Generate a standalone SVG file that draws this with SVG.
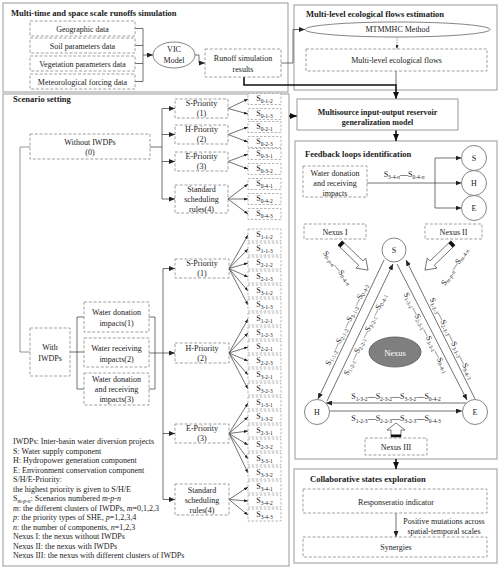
<svg xmlns="http://www.w3.org/2000/svg" width="500" height="569" viewBox="0 0 500 569">
<defs>
<style>
text{font-family:"Liberation Serif","Times New Roman",serif;font-size:8px;fill:#1a1a1a}
.b{font-weight:bold}
.tt{font-weight:bold;font-size:8.5px}
.m{text-anchor:middle}
.sub{font-size:5.5px}
.it{font-style:italic}
.pn{fill:none;stroke:#999;stroke-width:1}
.db{fill:#fff;stroke:#888;stroke-width:0.8;stroke-dasharray:3 1.8}
.sb{fill:#fff;stroke:#999;stroke-width:0.7;stroke-dasharray:2.5 1.5}
.ln{fill:none;stroke:#333;stroke-width:0.7}
.gl{fill:none;stroke:#888;stroke-width:0.9}
.tk{fill:none;stroke:#111;stroke-width:1.6}
.dt{fill:none;stroke:#555;stroke-width:0.6;stroke-dasharray:1.5 1}
.cr{fill:#fff;stroke:#666;stroke-width:0.8}
.ha{fill:#fff;stroke:#444;stroke-width:0.7}
</style>
<marker id="a" markerUnits="userSpaceOnUse" markerWidth="6" markerHeight="5" refX="6" refY="2.5" orient="auto"><path d="M0,0L6,2.5L0,5z" fill="#222"/></marker>
<marker id="as" markerUnits="userSpaceOnUse" markerWidth="4" markerHeight="3" refX="4" refY="1.5" orient="auto"><path d="M0,0L4,1.5L0,3z" fill="#222"/></marker>
<marker id="ak" markerUnits="userSpaceOnUse" markerWidth="7" markerHeight="6" refX="7" refY="3" orient="auto"><path d="M0,0L7,3L0,6z" fill="#111"/></marker>
</defs>
<rect width="500" height="569" fill="#fff"/>

<!-- Panels -->
<g id="panel-runoff">
<rect class="pn" x="3" y="3" width="285" height="89"/>
<text class="tt" x="11" y="16">Multi-time  and  space scale runoffs  simulation</text>
</g>
<g id="panel-eco">
<rect class="pn" x="294" y="5" width="203" height="85"/>
<text class="tt" x="306" y="17">Multi-level ecological flows estimation</text>
</g>
<g id="panel-scenario">
<rect class="pn" x="3" y="94" width="286" height="472"/>
<text class="tt" x="13" y="102">Scenario setting</text>
</g>
<g id="panel-feedback">
<rect class="pn" x="295" y="141" width="202" height="318"/>
<text class="tt" x="305" y="157">Feedback loops identification</text>
</g>
<g id="panel-collab">
<rect class="pn" x="294" y="469" width="203" height="94"/>
<text class="tt" x="310" y="482">Collaborative states exploration</text>
</g>

<!-- Connectors -->
<g id="connectors">
<path class="ln" d="M135,28.5H143M135,45.5H143M135,63.5H143M135,81.5H143M143,28.5V81.5"/>
<line class="ln" x1="143" y1="55" x2="153" y2="55" marker-end="url(#a)"/>
<polyline class="ln" points="195,55 199,55 199,63 205,63" marker-end="url(#a)"/>
<polyline class="ln" points="281,63 293,63 293,29.5 305,29.5" marker-end="url(#a)"/>
<line class="dt" x1="397" y1="37" x2="397" y2="49" marker-end="url(#as)"/>
<line class="ln" x1="396" y1="71" x2="396" y2="85"/>
<polyline class="tk" points="244,77 244,85 396,85 396,99" marker-end="url(#ak)"/>
<line class="tk" x1="289" y1="116" x2="297" y2="116" marker-end="url(#ak)"/>
<line class="tk" x1="396" y1="130" x2="396" y2="141" marker-end="url(#ak)"/>
<line class="tk" x1="396" y1="459" x2="396" y2="469" marker-end="url(#ak)"/>
<line class="ln" x1="396" y1="513" x2="396" y2="537" marker-end="url(#a)"/>

<!-- scenario tree -->
<polyline class="gl" points="30,147 20,147 20,352 30,352"/>
<path class="ln" d="M150,147H162M162,108.5V199"/>
<line class="ln" x1="162" y1="108.5" x2="175" y2="108.5" marker-end="url(#a)"/>
<line class="ln" x1="162" y1="134.5" x2="175" y2="134.5" marker-end="url(#a)"/>
<line class="ln" x1="162" y1="161.5" x2="175" y2="161.5" marker-end="url(#a)"/>
<line class="ln" x1="162" y1="199" x2="175" y2="199" marker-end="url(#a)"/>

<path class="ln" d="M70,352H84M84,317H77V389H84M149,317H155V389H149"/>
<path class="ln" d="M149,353H163M163,268.5V499.5"/>
<line class="ln" x1="163" y1="268.5" x2="175" y2="268.5" marker-end="url(#a)"/>
<line class="ln" x1="163" y1="353" x2="175" y2="353" marker-end="url(#a)"/>
<line class="ln" x1="163" y1="433.5" x2="175" y2="433.5" marker-end="url(#a)"/>
<line class="ln" x1="163" y1="499.5" x2="175" y2="499.5" marker-end="url(#a)"/>

<!-- fans -->
<g class="ln" marker-end="url(#as)">
<line x1="228" y1="108.5" x2="248" y2="99"/>
<line x1="228" y1="108.5" x2="248" y2="114"/>
<line x1="228" y1="134.5" x2="248" y2="127"/>
<line x1="228" y1="134.5" x2="248" y2="142"/>
<line x1="228" y1="161.5" x2="248" y2="154"/>
<line x1="228" y1="161.5" x2="248" y2="169"/>
<line x1="228" y1="199" x2="248" y2="184"/>
<line x1="228" y1="199" x2="248" y2="199"/>
<line x1="228" y1="199" x2="248" y2="214"/>
<line x1="229" y1="268.5" x2="248" y2="235"/>
<line x1="229" y1="268.5" x2="248" y2="249"/>
<line x1="229" y1="268.5" x2="248" y2="263"/>
<line x1="229" y1="268.5" x2="248" y2="277"/>
<line x1="229" y1="268.5" x2="248" y2="291"/>
<line x1="229" y1="268.5" x2="248" y2="305"/>
<line x1="229" y1="353" x2="248" y2="319"/>
<line x1="229" y1="353" x2="248" y2="333"/>
<line x1="229" y1="353" x2="248" y2="347"/>
<line x1="229" y1="353" x2="248" y2="361"/>
<line x1="229" y1="353" x2="248" y2="375"/>
<line x1="229" y1="353" x2="248" y2="389"/>
<line x1="229" y1="433.5" x2="248" y2="403"/>
<line x1="229" y1="433.5" x2="248" y2="417"/>
<line x1="229" y1="433.5" x2="248" y2="431"/>
<line x1="229" y1="433.5" x2="248" y2="445"/>
<line x1="229" y1="433.5" x2="248" y2="459"/>
<line x1="229" y1="433.5" x2="248" y2="473"/>
<line x1="229" y1="499.5" x2="248" y2="487"/>
<line x1="229" y1="499.5" x2="248" y2="501"/>
<line x1="229" y1="499.5" x2="248" y2="515"/>
</g>

<!-- feedback -->
<path class="ln" d="M367,183H435M435,158V208"/>
<line class="ln" x1="435" y1="158" x2="461.5" y2="158" marker-end="url(#a)"/>
<line class="ln" x1="435" y1="183" x2="461.5" y2="183" marker-end="url(#a)"/>
<line class="ln" x1="435" y1="208" x2="461.5" y2="208" marker-end="url(#a)"/>

<line class="ln" x1="384" y1="260" x2="318" y2="399" marker-end="url(#a)"/>
<line class="ln" x1="327" y1="401" x2="393" y2="264" marker-end="url(#a)"/>
<line class="ln" x1="397" y1="264" x2="467" y2="400" marker-end="url(#a)"/>
<line class="ln" x1="475" y1="399" x2="406" y2="260" marker-end="url(#a)"/>
<line class="ln" x1="466" y1="403" x2="326" y2="403" marker-end="url(#a)"/>
<line class="ln" x1="330" y1="411" x2="462" y2="411" marker-end="url(#a)"/>

<!-- hollow arrows -->
<g transform="translate(340,243) rotate(44)">
<polygon class="ha" points="0,-3 29,-3 29,-7 39,0 29,7 29,3 0,3"/>
<rect x="0" y="-3" width="3.5" height="6" fill="#111"/>
</g>
<g transform="translate(453,243) rotate(136)">
<polygon class="ha" points="0,-3 29,-3 29,-7 39,0 29,7 29,3 0,3"/>
<rect x="0" y="-3" width="3.5" height="6" fill="#111"/>
</g>
<g transform="translate(396,437) rotate(-90)">
<polygon class="ha" points="0,-5 7,-5 7,-9 14,0 7,9 7,5 0,5"/>
<rect x="0" y="-5" width="2.5" height="10" fill="#111"/>
</g>

<!-- connector labels -->
<text class="m" x="404" y="177">S<tspan class="sub" dy="1.5">3-4-<tspan class="it">n</tspan></tspan><tspan dy="-1.5">—S</tspan><tspan class="sub" dy="1.5">0-4-<tspan class="it">n</tspan></tspan></text>
<text class="m" transform="translate(335.5,269.3) rotate(51)">S<tspan class="sub" dy="1.5">0-<tspan class="it">p</tspan>-<tspan class="it">n</tspan></tspan><tspan dy="-1.5">—S</tspan><tspan class="sub" dy="1.5">0-4-<tspan class="it">n</tspan></tspan></text>
<text class="m" transform="translate(456.7,268) rotate(-57)">S<tspan class="sub it" dy="1.5">m-p-n</tspan><tspan dy="-1.5">—S</tspan><tspan class="sub" dy="1.5"><tspan class="it">m</tspan>-4-<tspan class="it">n</tspan></tspan></text>
<text class="m" transform="translate(349,325.5) rotate(-64.6)">S<tspan class="sub" dy="1.5">1-1-2</tspan><tspan dy="-1.5">—S</tspan><tspan class="sub" dy="1.5">2-1-2</tspan><tspan dy="-1.5">—S</tspan><tspan class="sub" dy="1.5">3-1-2</tspan><tspan dy="-1.5">—S</tspan><tspan class="sub" dy="1.5">0-4-2</tspan></text>
<text class="m" transform="translate(367.4,335.5) rotate(-64.3)">S<tspan class="sub" dy="1.5">1-2-1</tspan><tspan dy="-1.5">—S</tspan><tspan class="sub" dy="1.5">2-2-1</tspan><tspan dy="-1.5">—S</tspan><tspan class="sub" dy="1.5">3-2-1</tspan><tspan dy="-1.5">—S</tspan><tspan class="sub" dy="1.5">0-4-1</tspan></text>
<text class="m" transform="translate(449.3,339.4) rotate(63.6)">S<tspan class="sub" dy="1.5">1-1-3</tspan><tspan dy="-1.5">—S</tspan><tspan class="sub" dy="1.5">2-1-3</tspan><tspan dy="-1.5">—S</tspan><tspan class="sub" dy="1.5">3-1-3</tspan><tspan dy="-1.5">—S</tspan><tspan class="sub" dy="1.5">0-4-3</tspan></text>
<text class="m" transform="translate(423.9,333.7) rotate(62.8)">S<tspan class="sub" dy="1.5">1-3-1</tspan><tspan dy="-1.5">—S</tspan><tspan class="sub" dy="1.5">2-3-1</tspan><tspan dy="-1.5">—S</tspan><tspan class="sub" dy="1.5">3-3-1</tspan><tspan dy="-1.5">—S</tspan><tspan class="sub" dy="1.5">0-4-1</tspan></text>
<text class="m" x="396" y="399">S<tspan class="sub" dy="1.5">1-3-2</tspan><tspan dy="-1.5">—S</tspan><tspan class="sub" dy="1.5">2-3-2</tspan><tspan dy="-1.5">—S</tspan><tspan class="sub" dy="1.5">3-3-2</tspan><tspan dy="-1.5">—S</tspan><tspan class="sub" dy="1.5">0-4-2</tspan></text>
<text class="m" x="396" y="421">S<tspan class="sub" dy="1.5">1-2-3</tspan><tspan dy="-1.5">—S</tspan><tspan class="sub" dy="1.5">2-2-3</tspan><tspan dy="-1.5">—S</tspan><tspan class="sub" dy="1.5">3-2-3</tspan><tspan dy="-1.5">—S</tspan><tspan class="sub" dy="1.5">0-4-3</tspan></text>
<text class="m" x="444" y="523.5">Positive mutations across</text>
<text class="m" x="444" y="533.5">spatial-temporal  scales</text>
</g>

<!-- Nodes: runoff panel -->
<g id="geo"><rect class="db" x="30" y="21" width="105" height="15"/><text class="m" x="82.5" y="31.5">Geographic data</text></g>
<g id="soil"><rect class="db" x="30" y="38" width="105" height="15"/><text class="m" x="82.5" y="48.5">Soil parameters data</text></g>
<g id="veg"><rect class="db" x="30" y="56" width="105" height="15"/><text class="m" x="82.5" y="66.5">Vegetation  parameters data</text></g>
<g id="meteo"><rect class="db" x="30" y="74" width="105" height="15"/><text class="m" x="82.5" y="84.5">Meteorological  forcing data</text></g>
<g id="vic"><ellipse cx="174" cy="55" rx="21" ry="13" fill="#fff" stroke="#666" stroke-width="0.8"/><text class="m" x="174" y="52">VIC</text><text class="m" x="174" y="63">Model</text></g>
<g id="runoff"><rect class="db" x="205" y="49" width="76" height="28"/><text class="m" x="243" y="61">Runoff simulation</text><text class="m" x="243" y="72">results</text></g>

<!-- eco panel -->
<g id="mtmmhc"><ellipse cx="397.5" cy="29.5" rx="92.5" ry="7.5" fill="#fff" stroke="#666" stroke-width="0.8"/><text class="m" x="397.5" y="32.3">MTMMHC Method</text></g>
<g id="mlef"><rect class="db" x="306" y="49" width="181" height="22"/><text class="m" x="396.5" y="63">Multi-level  ecological flows</text></g>

<g id="multisource"><rect x="297" y="99" width="161" height="31" fill="#fff" stroke="#999" stroke-width="1"/><text class="m b" x="377.5" y="115">Multisource input-output  reservoir</text><text class="m b" x="377.5" y="124.5">generalization model</text></g>

<!-- scenario nodes -->
<g id="without"><rect class="db" x="30" y="134" width="120" height="25"/><text class="m" x="90" y="145">Without IWDPs</text><text class="m" x="90" y="155">(0)</text></g>
<g id="s-pri-0"><rect class="db" x="175" y="99" width="53" height="19"/><text class="m" x="201.5" y="106">S-Priority</text><text class="m" x="201.5" y="116">(1)</text></g>
<g id="h-pri-0"><rect class="db" x="175" y="125" width="53" height="19"/><text class="m" x="201.5" y="132">H-Priority</text><text class="m" x="201.5" y="142">(2)</text></g>
<g id="e-pri-0"><rect class="db" x="175" y="152" width="53" height="19"/><text class="m" x="201.5" y="159">E-Priority</text><text class="m" x="201.5" y="169">(3)</text></g>
<g id="std-0"><rect class="db" x="175" y="185" width="53" height="28"/><text class="m" x="201.5" y="192">Standard</text><text class="m" x="201.5" y="202">scheduling</text><text class="m" x="201.5" y="212">rules(4)</text></g>

<g id="with"><rect class="db" x="30" y="328" width="40" height="48"/><text class="m" x="50" y="350">With</text><text class="m" x="50" y="361">IWDPs</text></g>
<g id="wd1"><rect class="db" x="84" y="302" width="65" height="30"/><text class="m" x="116.5" y="315">Water donation</text><text class="m" x="116.5" y="325.5">impacts(1)</text></g>
<g id="wr2"><rect class="db" x="84" y="338" width="65" height="29"/><text class="m" x="116.5" y="351">Water receiving</text><text class="m" x="116.5" y="361.5">impacts(2)</text></g>
<g id="wdr3"><rect class="db" x="84" y="373" width="65" height="32"/><text class="m" x="116.5" y="381.5">Water donation</text><text class="m" x="116.5" y="391.5">and receiving</text><text class="m" x="116.5" y="401.5">impacts(3)</text></g>

<g id="s-pri-1"><rect class="db" x="175" y="259" width="54" height="19"/><text class="m" x="202" y="266">S-Priority</text><text class="m" x="202" y="276">(1)</text></g>
<g id="h-pri-1"><rect class="db" x="175" y="343" width="54" height="20"/><text class="m" x="202" y="350.5">H-Priority</text><text class="m" x="202" y="360.5">(2)</text></g>
<g id="e-pri-1"><rect class="db" x="175" y="424" width="54" height="19"/><text class="m" x="202" y="431">E-Priority</text><text class="m" x="202" y="441">(3)</text></g>
<g id="std-1"><rect class="db" x="175" y="484" width="54" height="31"/><text class="m" x="202" y="493">Standard</text><text class="m" x="202" y="503">scheduling</text><text class="m" x="202" y="513">rules(4)</text></g>

<!-- S boxes without IWDPs -->
<g id="s0-1-2"><rect class="sb" x="248" y="93.5" width="33" height="11"/><text class="m" x="264.5" y="101">S<tspan class="sub" dy="1.5">0-1-2</tspan></text></g>
<g id="s0-1-3"><rect class="sb" x="248" y="108.5" width="33" height="11"/><text class="m" x="264.5" y="116">S<tspan class="sub" dy="1.5">0-1-3</tspan></text></g>
<g id="s0-2-1"><rect class="sb" x="248" y="121.5" width="33" height="11"/><text class="m" x="264.5" y="129">S<tspan class="sub" dy="1.5">0-2-1</tspan></text></g>
<g id="s0-2-3"><rect class="sb" x="248" y="136.5" width="33" height="11"/><text class="m" x="264.5" y="144">S<tspan class="sub" dy="1.5">0-2-3</tspan></text></g>
<g id="s0-3-1"><rect class="sb" x="248" y="148.5" width="33" height="11"/><text class="m" x="264.5" y="156">S<tspan class="sub" dy="1.5">0-3-1</tspan></text></g>
<g id="s0-3-2"><rect class="sb" x="248" y="163.5" width="33" height="11"/><text class="m" x="264.5" y="171">S<tspan class="sub" dy="1.5">0-3-2</tspan></text></g>
<g id="s0-4-1"><rect class="sb" x="248" y="178.5" width="33" height="11"/><text class="m" x="264.5" y="186">S<tspan class="sub" dy="1.5">0-4-1</tspan></text></g>
<g id="s0-4-2"><rect class="sb" x="248" y="193.5" width="33" height="11"/><text class="m" x="264.5" y="201">S<tspan class="sub" dy="1.5">0-4-2</tspan></text></g>
<g id="s0-4-3"><rect class="sb" x="248" y="208.5" width="33" height="11"/><text class="m" x="264.5" y="216">S<tspan class="sub" dy="1.5">0-4-3</tspan></text></g>

<!-- S boxes with IWDPs -->
<g id="s1-1-2"><rect class="sb" x="248" y="229" width="33" height="12"/><text class="m" x="264.5" y="237">S<tspan class="sub" dy="1.5">1-1-2</tspan></text></g>
<g id="s1-1-3"><rect class="sb" x="248" y="243" width="33" height="12"/><text class="m" x="264.5" y="251">S<tspan class="sub" dy="1.5">1-1-3</tspan></text></g>
<g id="s2-1-2"><rect class="sb" x="248" y="257" width="33" height="12"/><text class="m" x="264.5" y="265">S<tspan class="sub" dy="1.5">2-1-2</tspan></text></g>
<g id="s2-1-3"><rect class="sb" x="248" y="271" width="33" height="12"/><text class="m" x="264.5" y="279">S<tspan class="sub" dy="1.5">2-1-3</tspan></text></g>
<g id="s3-1-2"><rect class="sb" x="248" y="285" width="33" height="12"/><text class="m" x="264.5" y="293">S<tspan class="sub" dy="1.5">3-1-2</tspan></text></g>
<g id="s3-1-3"><rect class="sb" x="248" y="299" width="33" height="12"/><text class="m" x="264.5" y="307">S<tspan class="sub" dy="1.5">3-1-3</tspan></text></g>
<g id="s1-2-1"><rect class="sb" x="248" y="313" width="33" height="12"/><text class="m" x="264.5" y="321">S<tspan class="sub" dy="1.5">1-2-1</tspan></text></g>
<g id="s1-2-3"><rect class="sb" x="248" y="327" width="33" height="12"/><text class="m" x="264.5" y="335">S<tspan class="sub" dy="1.5">1-2-3</tspan></text></g>
<g id="s2-2-1"><rect class="sb" x="248" y="341" width="33" height="12"/><text class="m" x="264.5" y="349">S<tspan class="sub" dy="1.5">2-2-1</tspan></text></g>
<g id="s2-2-3"><rect class="sb" x="248" y="355" width="33" height="12"/><text class="m" x="264.5" y="363">S<tspan class="sub" dy="1.5">2-2-3</tspan></text></g>
<g id="s3-2-1"><rect class="sb" x="248" y="369" width="33" height="12"/><text class="m" x="264.5" y="377">S<tspan class="sub" dy="1.5">3-2-1</tspan></text></g>
<g id="s3-2-3"><rect class="sb" x="248" y="383" width="33" height="12"/><text class="m" x="264.5" y="391">S<tspan class="sub" dy="1.5">3-2-3</tspan></text></g>
<g id="s1-3-1"><rect class="sb" x="248" y="397" width="33" height="12"/><text class="m" x="264.5" y="405">S<tspan class="sub" dy="1.5">1-3-1</tspan></text></g>
<g id="s1-3-2"><rect class="sb" x="248" y="411" width="33" height="12"/><text class="m" x="264.5" y="419">S<tspan class="sub" dy="1.5">1-3-2</tspan></text></g>
<g id="s2-3-1"><rect class="sb" x="248" y="425" width="33" height="12"/><text class="m" x="264.5" y="433">S<tspan class="sub" dy="1.5">2-3-1</tspan></text></g>
<g id="s2-3-2"><rect class="sb" x="248" y="439" width="33" height="12"/><text class="m" x="264.5" y="447">S<tspan class="sub" dy="1.5">2-3-2</tspan></text></g>
<g id="s3-3-1"><rect class="sb" x="248" y="453" width="33" height="12"/><text class="m" x="264.5" y="461">S<tspan class="sub" dy="1.5">3-3-1</tspan></text></g>
<g id="s3-3-2"><rect class="sb" x="248" y="467" width="33" height="12"/><text class="m" x="264.5" y="475">S<tspan class="sub" dy="1.5">3-3-2</tspan></text></g>
<g id="s3-4-1"><rect class="sb" x="248" y="481" width="33" height="12"/><text class="m" x="264.5" y="489">S<tspan class="sub" dy="1.5">3-4-1</tspan></text></g>
<g id="s3-4-2"><rect class="sb" x="248" y="495" width="33" height="12"/><text class="m" x="264.5" y="503">S<tspan class="sub" dy="1.5">3-4-2</tspan></text></g>
<g id="s3-4-3"><rect class="sb" x="248" y="509" width="33" height="12"/><text class="m" x="264.5" y="517">S<tspan class="sub" dy="1.5">3-4-3</tspan></text></g>

<!-- Legend -->
<g id="legend">
<text x="13" y="444">IWDPs: Inter-basin water diversion projects</text>
<text x="13" y="453.5">S: Water supply component</text>
<text x="13" y="463">H: Hydropower generation  component</text>
<text x="13" y="472.5">E: Environment  conservation component</text>
<text x="13" y="482">S/H/E-Priority:</text>
<text x="13" y="491.5">the highest priority is given to S/H/E</text>
<text x="13" y="501">S<tspan class="sub it" dy="1.5">m-p-n</tspan><tspan dy="-1.5">: Scenarios numbered </tspan><tspan class="it">m-p-n</tspan></text>
<text x="13" y="510.5"><tspan class="it">m</tspan>: the different clusters of IWDPs, <tspan class="it">m</tspan>=0,1,2,3</text>
<text x="13" y="520"><tspan class="it">p</tspan>: the priority types of SHE, <tspan class="it">p</tspan>=1,2,3,4</text>
<text x="13" y="529.5"><tspan class="it">n</tspan>: the number of components, <tspan class="it">n</tspan>=1,2,3</text>
<text x="13" y="539">Nexus I: the nexus without IWDPs</text>
<text x="13" y="548.5">Nexus II: the nexus with IWDPs</text>
<text x="13" y="558">Nexus III: the nexus with  different  clusters of IWDPs</text>
</g>

<!-- Feedback nodes -->
<g id="wdr-box"><rect class="db" x="303" y="166" width="64" height="31"/><text class="m" x="335" y="176">Water donation</text><text class="m" x="335" y="186">and receiving</text><text class="m" x="335" y="196">impacts</text></g>
<g id="c-s1"><circle class="cr" cx="474" cy="158" r="12.5"/><text class="m" x="474" y="161">S</text></g>
<g id="c-h1"><circle class="cr" cx="474" cy="183" r="12.5"/><text class="m" x="474" y="186">H</text></g>
<g id="c-e1"><circle class="cr" cx="474" cy="208" r="12.5"/><text class="m" x="474" y="211">E</text></g>
<g id="nexus1"><rect class="db" x="304" y="224" width="62" height="15"/><text class="m" x="335" y="234.5">Nexus I</text></g>
<g id="nexus2"><rect class="db" x="425" y="224" width="57" height="15"/><text class="m" x="453.5" y="234.5">Nexus II</text></g>
<g id="c-s"><circle class="cr" cx="394" cy="250" r="12"/><text class="m" x="394" y="253">S</text></g>
<g id="c-h"><circle class="cr" cx="317" cy="412" r="12.5"/><text class="m" x="317" y="415">H</text></g>
<g id="c-e"><circle class="cr" cx="475" cy="412" r="12.5"/><text class="m" x="475" y="415">E</text></g>
<g id="nexus"><ellipse cx="395" cy="352" rx="26" ry="15" fill="#7f7f7f" stroke="#555" stroke-width="0.8"/><text class="m" x="395" y="355.5" style="fill:#fff;font-size:8.5px">Nexus</text></g>
<g id="nexus3"><rect class="db" x="365" y="438" width="62" height="17"/><text class="m" x="396" y="449.5">Nexus III</text></g>

<!-- Collab nodes -->
<g id="rri"><rect class="db" x="303" y="489" width="184" height="24"/><text class="m" x="396" y="504.5">Responseratio indicator</text></g>
<g id="synergies"><rect class="db" x="303" y="537" width="184" height="20"/><text class="m" x="396" y="550">Synergies</text></g>
</svg>
